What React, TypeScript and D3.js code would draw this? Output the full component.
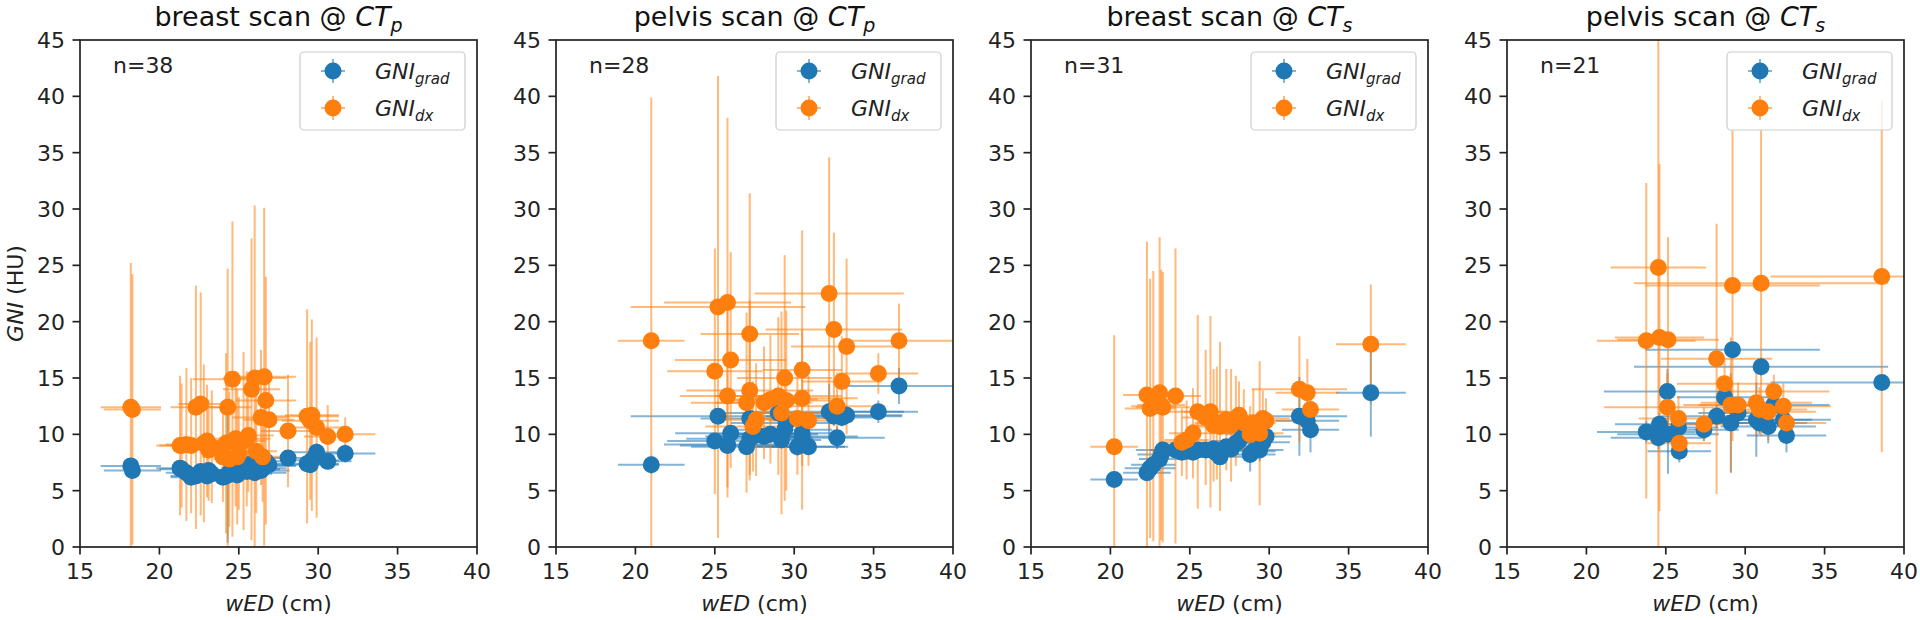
import React from 'react';
import * as d3 from 'd3';

// ---------- labels ----------
const titleMain = ['breast scan @ ', 'pelvis scan @ ', 'breast scan @ ', 'pelvis scan @ '];
const titleSub = ['p', 'p', 's', 's'];
const nLabels = ['n=38', 'n=28', 'n=31', 'n=21'];
const xTicks = [15, 20, 25, 30, 35, 40];
const yTicks = [0, 5, 10, 15, 20, 25, 30, 35, 40, 45];
const xDomain = [15, 40];
const yDomain = [0, 45];

// ---------- panel 1 : breast scan @ CTp ----------
const p1_wED = [18.2,18.3,21.3,21.7,22.3,22.6,22.8,23.1,23.3,24.0,24.3,24.4,24.6,24.8,25.0,25.3,25.6,25.8,26.0,26.1,26.4,26.6,26.7,26.5,28.1,29.3,29.6,29.9,30.6,31.7,21.4,22.0,23.0,24.2,25.5,24.9,26.9,29.5];
const p1_wEDerr = [1.9,1.8,1.5,1.3,1.6,1.4,1.2,1.1,1.2,1.3,1.5,1.0,2.5,1.4,1.2,1.4,1.6,1.8,2.0,1.3,1.8,2.0,1.9,1.5,1.7,2.0,1.7,1.9,1.5,1.9,1.4,1.3,1.3,1.4,1.5,1.4,1.6,1.8];
const p1_grad = [7.2,6.8,7.0,6.6,6.3,6.7,6.5,6.8,6.5,6.2,6.4,6.6,6.5,6.8,6.6,7.0,7.3,6.9,6.6,7.1,6.8,7.2,7.6,7.0,7.9,7.4,7.7,8.4,7.6,8.3,6.9,6.2,6.3,6.3,6.7,6.4,7.3,7.3];
const p1_gradErr = [0.7,0.6,0.6,0.6,0.6,0.6,0.6,0.6,0.6,0.6,6.0,0.6,0.6,0.6,0.6,0.6,0.7,0.6,0.6,0.6,0.6,0.7,0.7,0.6,0.7,0.7,0.7,0.8,0.7,0.8,0.6,0.6,0.6,0.6,0.6,0.6,0.6,0.7];
const p1_dx = [12.4,12.2,9.0,9.1,12.4,12.7,9.2,8.6,8.9,8.0,12.4,7.8,14.9,9.6,8.3,9.4,9.9,14.0,15.0,8.5,11.5,15.1,13.0,8.0,10.3,11.6,11.7,10.6,9.8,10.0,9.0,9.0,9.4,9.2,9.6,8.0,11.3,11.2];
const p1_dxErr = [12.8,12.0,6.2,6.8,10.8,9.9,7.0,4.5,5.0,4.0,12.3,6.0,14.0,6.0,5.0,7.9,5.0,13.4,15.3,5.5,6.0,15.0,11.0,4.0,5.0,9.5,8.5,8.0,2.8,1.5,5.5,6.0,5.0,8.0,6.0,6.0,4.0,7.0];

// ---------- panel 2 : pelvis scan @ CTp ----------
const p2_wED = [21.0,25.0,25.2,25.8,26.0,25.8,27.0,27.2,27.2,27.4,27.6,28.5,29.0,29.2,29.4,29.5,30.2,30.5,30.5,30.9,32.2,32.5,32.7,33.0,33.3,35.3,36.6,28.1];
const p2_wEDerr = [2.1,3.0,5.5,4.0,3.5,3.0,3.5,3.1,4.0,3.0,2.5,3.0,4.0,2.5,3.0,3.5,3.0,2.5,3.5,2.5,4.7,4.3,3.0,2.5,3.5,2.5,3.5,3.0];
const p2_grad = [7.3,9.4,11.6,9.1,10.1,9.0,8.9,11.4,9.6,9.8,10.0,10.0,11.9,9.5,10.4,11.0,8.9,10.1,9.8,8.9,12.0,11.6,9.7,11.5,11.7,12.0,14.3,9.8];
const p2_gradErr = [0.8,0.6,0.7,0.6,0.6,0.6,0.6,0.8,0.6,0.6,0.6,0.6,0.7,0.6,0.7,0.8,0.8,0.7,0.8,0.6,2.5,0.8,1.0,0.7,0.8,1.0,1.6,0.6];
const p2_dx = [18.3,15.6,21.3,21.7,16.6,13.4,12.8,18.9,13.9,10.7,11.3,13.1,13.4,11.9,15.0,13.0,11.4,15.7,13.2,11.2,22.5,19.3,12.5,14.7,17.8,15.4,18.3,12.8];
const p2_dxErr = [21.6,10.9,20.5,16.4,9.6,9.0,8.0,12.5,8.0,4.0,5.0,5.7,7.0,9.0,10.9,8.0,5.0,12.4,6.0,4.0,12.1,8.6,3.0,4.0,7.8,1.8,3.3,5.0];

// ---------- panel 3 : breast scan @ CTs ----------
const p3_wED = [20.24,22.3,22.5,22.7,23.1,23.2,23.3,24.1,24.8,25.2,25.5,26.0,26.3,26.5,26.7,26.9,27.3,27.6,27.9,28.1,28.4,28.8,29.0,29.4,29.6,29.8,31.9,32.4,32.6,36.4,24.5];
const p3_wEDerr = [1.5,1.5,1.6,1.4,1.3,1.5,1.7,1.6,1.4,1.5,1.8,1.5,1.7,1.5,1.4,1.6,1.5,1.4,1.6,1.8,1.5,1.6,1.4,1.5,1.7,1.6,3.0,2.0,1.8,2.2,1.4];
const p3_grad = [6.0,6.6,7.0,7.3,7.8,8.2,8.6,8.6,8.5,8.4,8.6,8.6,8.6,8.7,8.3,8.0,8.9,8.7,9.2,9.4,10.1,8.2,8.5,8.6,9.3,9.8,11.6,11.2,10.4,13.7,8.4];
const p3_gradErr = [0.5,0.6,0.6,0.6,0.6,0.6,0.6,0.6,0.6,0.6,0.6,0.6,0.6,0.6,0.6,0.7,0.6,0.6,0.7,0.6,0.7,1.5,0.8,1.0,0.7,0.8,3.5,1.2,2.0,3.9,0.6];
const p3_dx = [8.9,13.5,12.3,12.5,13.7,12.6,12.4,13.4,9.5,10.1,12.0,11.5,12.0,10.8,11.0,10.7,11.3,10.8,11.2,11.7,11.0,10.0,11.0,10.1,11.4,11.2,14.0,13.7,12.2,18.0,9.3];
const p3_dxErr = [9.9,13.6,11.5,12.0,13.8,12.0,12.0,13.1,3.5,4.0,8.6,6.0,8.5,5.0,5.0,7.5,4.5,5.0,4.0,3.0,3.0,2.5,3.0,6.4,2.5,2.0,4.7,3.0,2.0,5.3,3.0];

// ---------- panel 4 : pelvis scan @ CTs ----------
const p4_wED = [23.77,24.53,24.6,25.14,25.1,25.8,25.85,27.4,28.2,28.7,29.1,29.2,29.55,31.0,30.7,31.45,31.8,32.4,32.6,38.6,30.9];
const p4_wEDerr = [3.1,3.0,2.8,3.2,4.0,2.5,2.0,2.2,3.5,3.0,3.0,5.5,2.5,8.0,3.5,3.0,3.5,3.0,2.5,7.0,3.0];
const p4_grad = [10.2,9.7,10.9,10.0,13.8,10.6,8.5,10.4,11.6,13.3,11.0,17.5,11.9,16.0,11.3,10.7,12.6,11.3,9.9,14.6,11.0];
const p4_gradErr = [1.0,1.0,1.0,3.5,2.0,1.0,1.0,1.0,1.0,1.5,4.4,0.6,1.0,0.8,3.3,1.5,1.0,1.0,1.5,0.4,1.0];
const p4_dx = [18.3,24.8,18.6,18.4,12.4,11.4,9.2,10.9,16.7,14.5,12.6,23.2,12.6,23.4,12.8,12.0,13.8,12.5,11.0,24.0,12.2];
const p4_dxErr = [14.0,25.0,15.4,9.1,3.0,2.0,1.5,1.5,12.0,2.0,6.0,13.8,2.0,13.6,3.0,2.5,1.5,2.0,1.5,15.6,2.0];

const panels = [
  { x: p1_wED, xe: p1_wEDerr, g: p1_grad, ge: p1_gradErr, d: p1_dx, de: p1_dxErr },
  { x: p2_wED, xe: p2_wEDerr, g: p2_grad, ge: p2_gradErr, d: p2_dx, de: p2_dxErr },
  { x: p3_wED, xe: p3_wEDerr, g: p3_grad, ge: p3_gradErr, d: p3_dx, de: p3_dxErr },
  { x: p4_wED, xe: p4_wEDerr, g: p4_grad, ge: p4_gradErr, d: p4_dx, de: p4_dxErr },
];

// ---------- layout ----------
const W = 1920, H = 620;
const LEFTS = [80, 556, 1031, 1507];
const AX_W = 397;
const AX_TOP = 40, AX_BOTTOM = 547;
const BLUE = '#1f77b4', ORANGE = '#ff7f0e';
const FONT = 'DejaVu Sans, sans-serif';
const FS = 22;
const R = 8.5;

function ErrBars({ xs, xe, ys, ye, xS, yS, color }: any) {
  return (
    <g stroke={color} strokeOpacity={0.55} strokeWidth={2}>
      {xs.map((v: number, i: number) => (
        <g key={'e' + i}>
          <line x1={xS(v - xe[i])} x2={xS(v + xe[i])} y1={yS(ys[i])} y2={yS(ys[i])} />
          <line x1={xS(v)} x2={xS(v)} y1={yS(ys[i] - ye[i])} y2={yS(ys[i] + ye[i])} />
        </g>
      ))}
    </g>
  );
}

function Markers({ xs, ys, xS, yS, color }: any) {
  return (
    <g fill={color}>
      {xs.map((v: number, i: number) => (
        <circle key={'m' + i} cx={xS(v)} cy={yS(ys[i])} r={R} />
      ))}
    </g>
  );
}

function Panel({ idx }: { idx: number }) {
  const left = LEFTS[idx];
  const right = left + AX_W;
  const xS = d3.scaleLinear().domain(xDomain).range([left, right]);
  const yS = d3.scaleLinear().domain(yDomain).range([AX_BOTTOM, AX_TOP]);
  const p = panels[idx];
  const clipId = 'clip' + idx;
  const lgW = 165, lgH = 78;
  const lgX = right - 12 - lgW, lgY = AX_TOP + 12;
  const cx = (left + right) / 2;
  return (
    <g>
      <defs>
        <clipPath id={clipId}>
          <rect x={left} y={AX_TOP} width={AX_W} height={AX_BOTTOM - AX_TOP} />
        </clipPath>
      </defs>
      <g clipPath={`url(#${clipId})`}>
        <ErrBars xs={p.x} xe={p.xe} ys={p.g} ye={p.ge} xS={xS} yS={yS} color={BLUE} />
        <ErrBars xs={p.x} xe={p.xe} ys={p.d} ye={p.de} xS={xS} yS={yS} color={ORANGE} />
        <Markers xs={p.x} ys={p.g} xS={xS} yS={yS} color={BLUE} />
        <Markers xs={p.x} ys={p.d} xS={xS} yS={yS} color={ORANGE} />
      </g>
      {/* frame */}
      <rect x={left} y={AX_TOP} width={AX_W} height={AX_BOTTOM - AX_TOP} fill="none" stroke="#222" strokeWidth={1.7} />
      {/* x ticks */}
      {xTicks.map((t) => (
        <g key={'xt' + t}>
          <line x1={xS(t)} x2={xS(t)} y1={AX_BOTTOM} y2={AX_BOTTOM + 7.5} stroke="#222" strokeWidth={1.7} />
          <text x={xS(t)} y={AX_BOTTOM + 32} textAnchor="middle" fontSize={FS} fill="#222" fontFamily={FONT}>{t}</text>
        </g>
      ))}
      {/* y ticks */}
      {yTicks.map((t) => (
        <g key={'yt' + t}>
          <line x1={left - 7.5} x2={left} y1={yS(t)} y2={yS(t)} stroke="#222" strokeWidth={1.7} />
          <text x={left - 15} y={yS(t)} dy="0.36em" textAnchor="end" fontSize={FS} fill="#222" fontFamily={FONT}>{t}</text>
        </g>
      ))}
      {/* title */}
      <text x={cx} y={AX_TOP - 14} textAnchor="middle" fontSize={27} fill="#111" fontFamily={FONT}>
        {titleMain[idx]}
        <tspan fontStyle="italic">CT</tspan>
        <tspan fontStyle="italic" fontSize={19} dy={6}>{titleSub[idx]}</tspan>
      </text>
      {/* x label */}
      <text x={cx} y={611} textAnchor="middle" fontSize={FS} fill="#222" fontFamily={FONT}>
        <tspan fontStyle="italic">wED</tspan> (cm)
      </text>
      {/* n label */}
      <text x={left + 33} y={AX_TOP + 33} fontSize={FS} fill="#222" fontFamily={FONT}>{nLabels[idx]}</text>
      {/* legend */}
      <rect x={lgX} y={lgY} width={lgW} height={lgH} rx={4} fill="#fff" fillOpacity={0.8} stroke="#ccc" strokeWidth={1.2} />
      {[{ c: BLUE, s: 'grad' }, { c: ORANGE, s: 'dx' }].map((e, k) => {
        const my = lgY + 19 + k * 37;
        const mx = lgX + 33;
        return (
          <g key={'lg' + k}>
            <g stroke={e.c} strokeOpacity={0.55} strokeWidth={2}>
              <line x1={mx - 12} x2={mx + 12} y1={my} y2={my} />
              <line x1={mx} x2={mx} y1={my - 12} y2={my + 12} />
            </g>
            <circle cx={mx} cy={my} r={R} fill={e.c} />
            <text x={lgX + 75} y={my + 8} fontSize={FS} fill="#222" fontFamily={FONT} fontStyle="italic">
              GNI<tspan fontSize={15} dy={5}>{e.s}</tspan>
            </text>
          </g>
        );
      })}
    </g>
  );
}

export default function App() {
  return (
    <svg width={W} height={H} style={{ position: 'absolute', left: 0, top: 0, background: '#fff' }}>
      <rect x={0} y={0} width={W} height={H} fill="#fff" />
      {[0, 1, 2, 3].map((i) => <Panel key={i} idx={i} />)}
      <text transform={`translate(15, ${(AX_TOP + AX_BOTTOM) / 2}) rotate(-90)`} textAnchor="middle" dy="0.36em" fontSize={FS} fill="#222" fontFamily={FONT}>
        <tspan fontStyle="italic">GNI</tspan> (HU)
      </text>
    </svg>
  );
}
